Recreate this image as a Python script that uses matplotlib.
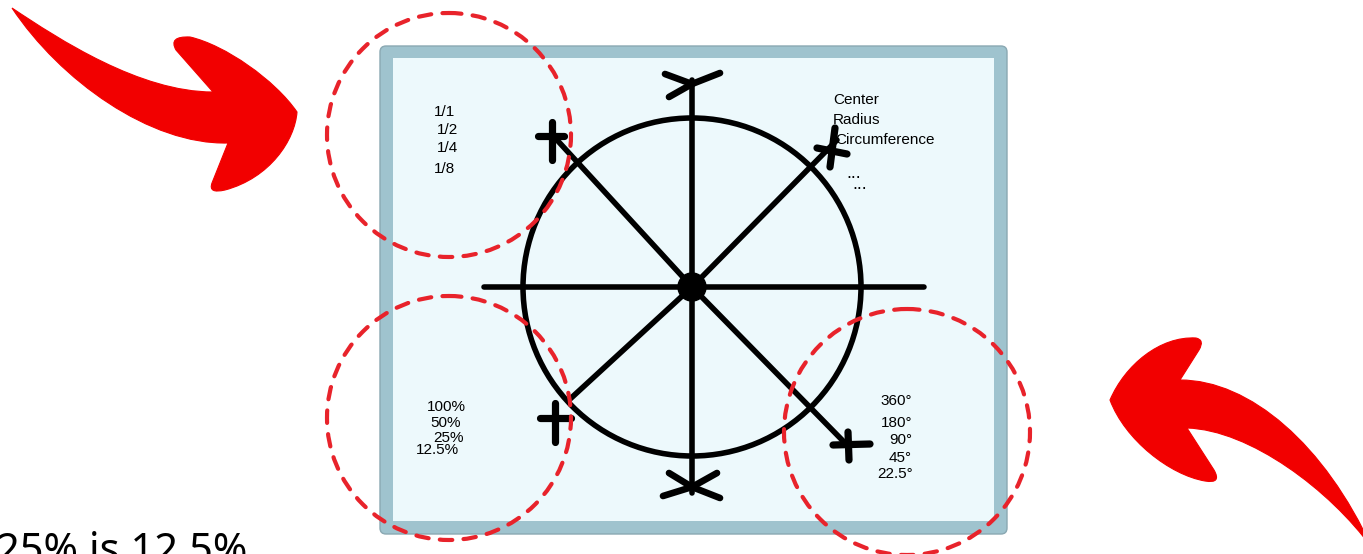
#!/usr/bin/env python3

import matplotlib
matplotlib.use("Agg")
import matplotlib.pyplot as plt
from matplotlib.path import Path
from matplotlib.patches import PathPatch, Circle, FancyBboxPatch, Rectangle

# text content of the sketch
fraction_labels = ["1/1", "1/2", "1/4", "1/8"]
term_labels = ["Center", "Radius", "Circumference"]
ellipsis_labels = ["...", "..."]
percent_labels = ["100%", "50%", "25%", "12.5%"]
degree_labels = ["360°", "180°", "90°", "45°", "22.5°"]
caption = "25% is 12.5%"

# layout in pixel units (x right, y down)
W, H = 1363, 554
fraction_pos = [(434, 116), (437, 134), (437, 152), (434, 173)]
term_pos = [(833, 104), (833, 124), (835, 144)]
ellipsis_pos = [(846, 178), (852, 189)]
percent_pos = [(446, 411), (446, 427), (449, 442), (437, 454)]
degree_pos = [(912, 405), (912, 427), (912, 444), (912, 462), (913, 478)]

centre = (692, 287)
radius = 169
spoke_ends = [(557, 140), (837, 140), (569, 400), (847, 445)]
plus_marks = [  # (vertical stroke, horizontal stroke)
    (((552, 122), (552, 160)), ((538, 136), (564, 136))),
    (((835, 128), (830, 167)), ((817, 148), (847, 154))),
    (((555, 403), (555, 442)), ((540, 418), (571, 418))),
    (((848, 432), (849, 460)), ((833, 445), (870, 444))),
]
top_mark = [((665, 74), (692, 84)), ((720, 73), (692, 84)), ((692, 84), (669, 97))]
bottom_mark = [((669, 473), (692, 487)), ((717, 473), (692, 487)),
               ((692, 487), (663, 496)), ((692, 487), (720, 498))]
dashed_circles = [(449, 135, 122), (449, 418, 122), (907, 432, 123)]

INK = "black"
RED = "#e8232b"
ARROW_RED = "#f20000"


def path_patch(segments, color):
    verts, codes = [], []
    for code, pts in segments:
        verts.extend(pts)
        codes.extend([code] * len(pts))
    verts.append(verts[0])
    codes.append(Path.CLOSEPOLY)
    return PathPatch(Path(verts, codes), facecolor=color, edgecolor=color, lw=0.8, zorder=6)


def left_arrow():
    return path_patch([
        (Path.MOVETO, [(12, 8)]),
        (Path.CURVE4, [(60, 40), (140, 92), (213, 92)]),
        (Path.LINETO, [(176, 50)]),
        (Path.CURVE3, [(168, 36), (190, 37)]),
        (Path.CURVE4, [(225, 45), (275, 80), (297, 112)]),
        (Path.CURVE4, [(295, 140), (270, 178), (225, 190)]),
        (Path.CURVE3, [(208, 194), (212, 183)]),
        (Path.LINETO, [(228, 143)]),
        (Path.CURVE4, [(150, 145), (60, 80), (12, 8)]),
    ], ARROW_RED)


def right_arrow():
    return path_patch([
        (Path.MOVETO, [(1110, 400)]),
        (Path.CURVE4, [(1125, 365), (1160, 336), (1196, 338)]),
        (Path.CURVE3, [(1205, 340), (1199, 350)]),
        (Path.LINETO, [(1180, 380)]),
        (Path.CURVE4, [(1250, 380), (1325, 445), (1372, 548)]),
        (Path.CURVE4, [(1330, 490), (1250, 430), (1187, 428)]),
        (Path.LINETO, [(1214, 470)]),
        (Path.CURVE3, [(1222, 484), (1205, 481)]),
        (Path.CURVE4, [(1170, 475), (1125, 440), (1110, 400)]),
    ], ARROW_RED)


def stroke(ax, p, q, lw=4.0):
    ax.plot([p[0], q[0]], [p[1], q[1]], color=INK, lw=lw, solid_capstyle="round", zorder=4)


def main():
    fig = plt.figure(figsize=(W / 100, H / 100), dpi=100)
    ax = fig.add_axes([0, 0, 1, 1])
    ax.set_xlim(0, W)
    ax.set_ylim(H, 0)
    ax.axis("off")

    # panel: blue-grey frame with a pale inner area
    ax.add_patch(FancyBboxPatch((380, 46), 627, 488, boxstyle="round,pad=0,rounding_size=6",
                                facecolor="#9fc3ce", edgecolor="#8aa8b2", lw=1, zorder=1))
    ax.add_patch(Rectangle((393, 58), 601, 463, facecolor="#edf9fc", edgecolor="none", zorder=2))

    font = dict(family="Liberation Sans", fontsize=11, color="black", va="baseline", zorder=3)
    for s, (x, y) in zip(fraction_labels, fraction_pos):
        ax.text(x, y, s, ha="left", **font)
    for s, (x, y) in zip(term_labels, term_pos):
        ax.text(x, y, s, ha="left", **font)
    for s, (x, y) in zip(ellipsis_labels, ellipsis_pos):
        ax.text(x, y, s, ha="left", **{**font, "fontsize": 13})
    for s, (x, y) in zip(percent_labels, percent_pos):
        ax.text(x, y, s, ha="center", **font)
    for s, (x, y) in zip(degree_labels, degree_pos):
        ax.text(x, y, s, ha="right", **font)

    # circle, axes and spokes
    ax.add_patch(Circle(centre, radius, facecolor="none", edgecolor=INK, lw=4.0, zorder=4))
    stroke(ax, (484, 287), (924, 287))
    stroke(ax, (692, 80), (692, 493))
    for end in spoke_ends:
        stroke(ax, centre, end)
    ax.add_patch(Circle(centre, 14, facecolor=INK, edgecolor=INK, zorder=4))
    for v, h in plus_marks:
        stroke(ax, *v, lw=5.2)
        stroke(ax, *h, lw=5.2)
    for p, q in top_mark + bottom_mark:
        stroke(ax, p, q, lw=4.8)

    # red dashed highlight circles
    for cx, cy, r in dashed_circles:
        ax.add_patch(Circle((cx, cy), r, facecolor="none", edgecolor=RED, lw=3.0,
                            linestyle=(0, (3.0, 2.7)), capstyle="round", zorder=5))

    ax.add_patch(left_arrow())
    ax.add_patch(right_arrow())

    ax.text(-4, 563, caption, family="Noto Sans", fontsize=30, color="black",
            ha="left", va="baseline", zorder=3)

    fig.savefig("out.png", dpi=100)


if __name__ == "__main__":
    main()
